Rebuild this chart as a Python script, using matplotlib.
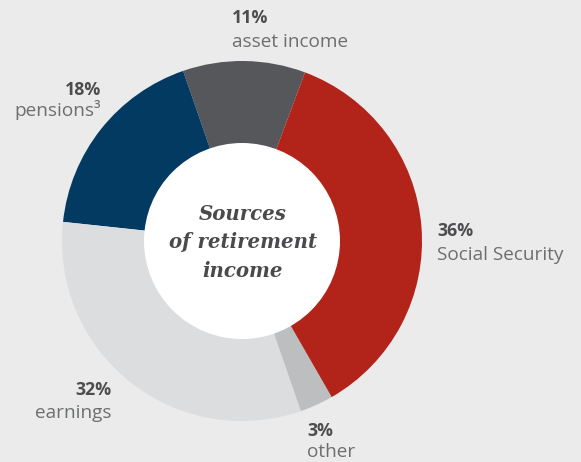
import matplotlib
matplotlib.use("Agg")
import matplotlib.pyplot as plt
from matplotlib.patches import Circle

# Data (counter-clockwise from the top-right boundary)
categories = ["asset income", "pensions\u00b3", "earnings", "other", "Social Security"]
values = [11, 18, 32, 3, 36]
colors = ["#56575b", "#033a62", "#dcdddf", "#bdbec0", "#b22319"]
pct_labels = ["11%", "18%", "32%", "3%", "36%"]

W, H = 581, 462
BG = "#ebebeb"

fig = plt.figure(figsize=(W / 100, H / 100), dpi=100, facecolor=BG)
ax = fig.add_axes([0, 0, 1, 1])
ax.set_facecolor(BG)

cx, cy = 242, H - 241
R = 180
ax.pie(values, colors=colors, startangle=69.5, counterclock=True,
       radius=R, center=(cx, cy), frame=True,
       wedgeprops=dict(width=R - 97, linewidth=0))
ax.set_xlim(0, W)
ax.set_ylim(0, H)
ax.set_aspect("equal")
ax.axis("off")
ax.add_patch(Circle((cx, cy), 98, facecolor="white", edgecolor="none", zorder=5))

# Center title
title_lines = ["Sources", "of retirement", "income"]
for line, yb in zip(title_lines, [220, 248.5, 277]):
    ax.text(cx + 1, H - yb, line, ha="center", va="baseline", family="DejaVu Serif",
            style="italic", weight="bold", fontsize=14.2, color="#4a4a4c", zorder=6)

# Labels: (x, baseline y of pct, baseline y of label, ha)
label_pos = {
    "asset income": (232, 23, 47, "left"),
    "pensions\u00b3": (101, 95, 116, "right"),
    "earnings": (111, 395, 418, "right"),
    "other": (307, 436, 457, "left"),
    "Social Security": (437, 236, 260, "left"),
}
for cat, pct in zip(categories, pct_labels):
    x, yp, yl, ha = label_pos[cat]
    ax.text(x, H - yp, pct, ha=ha, va="baseline", family="Open Sans", weight="bold",
            fontsize=12.8, color="#4d4d4f")
    ax.text(x, H - yl, cat, ha=ha, va="baseline", family="Open Sans",
            fontsize=13.7, color="#6d6e70")

fig.savefig("out.png", dpi=100, facecolor=BG)
